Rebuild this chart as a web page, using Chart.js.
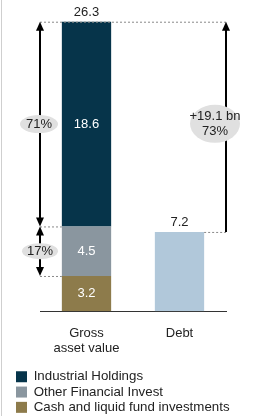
<!DOCTYPE html>
<html>
<head>
<meta charset="utf-8">
<script src="https://cdn.jsdelivr.net/npm/chart.js@4"></script>
<style>
  html, body { margin: 0; padding: 0; background: #fff; overflow: hidden; }
  #wrap { position: absolute; left: 0; top: 0; width: 259px; height: 424px; }
  #edge { position: absolute; left: 1px; top: 0; width: 1px; height: 416px; background: #cfcfcf; }
</style>
</head>
<body>
<div id="wrap"><canvas id="gavChart"></canvas></div>
<div id="edge"></div>
<script>
const categories = [["Gross", "asset value"], "Debt"];
const industrial = [18.6, null];
const otherFinancial = [4.5, null];
const cashFunds = [3.2, null];
const debt = [null, 7.2];
const seriesNames = ["Industrial Holdings", "Other Financial Invest", "Cash and liquid fund investments", "Debt"];
const totalLabel = "26.3";
const shareLabels = ["71%", "17%"];
const gapLabel = ["+19.1 bn", "73%"];

const FONT = "Liberation Sans, Arial, sans-serif";

function arrowHead(ctx, x, y, dir) {
  // dir -1 = pointing up, 1 = pointing down
  ctx.beginPath();
  ctx.moveTo(x, y);
  ctx.lineTo(x - 4, y - dir * 9);
  ctx.lineTo(x + 4, y - dir * 9);
  ctx.closePath();
  ctx.fill();
}

function vArrow(ctx, x, yTop, yBot, both) {
  ctx.beginPath();
  ctx.moveTo(x, yTop + 6);
  ctx.lineTo(x, both ? yBot - 6 : yBot);
  ctx.stroke();
  arrowHead(ctx, x, yTop, -1);
  if (both) arrowHead(ctx, x, yBot, 1);
}

function dashed(ctx, x1, x2, y) {
  ctx.save();
  ctx.setLineDash([2, 2]);
  ctx.strokeStyle = "#888";
  ctx.lineWidth = 1;
  ctx.beginPath();
  ctx.moveTo(x1, y + 0.5);
  ctx.lineTo(x2, y + 0.5);
  ctx.stroke();
  ctx.restore();
}

function bubble(ctx, cx, cy, rx, ry, lines) {
  ctx.fillStyle = "#e0e0e0";
  ctx.beginPath();
  ctx.ellipse(cx, cy, rx, ry, 0, 0, Math.PI * 2);
  ctx.fill();
  ctx.fillStyle = "#222";
  const lh = 15;
  lines.forEach((t, i) => {
    ctx.fillText(t, cx, cy + (i - (lines.length - 1) / 2) * lh);
  });
}

const annotations = {
  id: "annotations",
  afterDatasetsDraw(chart) {
    const ctx = chart.ctx;
    const y = chart.scales.y;
    const area = chart.chartArea;
    const gross = chart.getDatasetMeta(0).data[0];
    const debtBar = chart.getDatasetMeta(3).data[1];
    const gLeft = gross.x - gross.width / 2;
    const dRight = debtBar.x + debtBar.width / 2;

    const total = industrial[0] + otherFinancial[0] + cashFunds[0];
    const yTotal = y.getPixelForValue(total);
    const yMid = y.getPixelForValue(cashFunds[0] + otherFinancial[0]);
    const yCash = y.getPixelForValue(cashFunds[0]);
    const yDebt = y.getPixelForValue(debt[1]);

    ctx.save();
    dashed(ctx, area.left, area.right, yTotal);
    dashed(ctx, area.left, gLeft, yMid);
    dashed(ctx, area.left, gLeft, yCash);
    dashed(ctx, dRight, area.right, yDebt);

    ctx.strokeStyle = "#000";
    ctx.fillStyle = "#000";
    ctx.lineWidth = 2;
    vArrow(ctx, area.left, yTotal, yMid, true);
    vArrow(ctx, area.left, yMid, yCash, true);
    vArrow(ctx, area.right, yTotal, yDebt, false);

    ctx.font = "13px " + FONT;
    ctx.textAlign = "center";
    ctx.textBaseline = "middle";
    bubble(ctx, area.left - 1, (yTotal + yMid) / 2, 19, 9, [shareLabels[0]]);
    bubble(ctx, area.left, (yMid + yCash) / 2, 18, 8, [shareLabels[1]]);
    bubble(ctx, area.right - 11, (yTotal + yDebt) / 2 - 3, 25, 19, gapLabel);

    // value labels inside the stack, bottom up
    ctx.fillStyle = "#fff";
    let base = 0;
    [cashFunds, otherFinancial, industrial].forEach(s => {
      const v = s[0];
      ctx.fillText(v.toFixed(1), gross.x, y.getPixelForValue(base + v / 2));
      base += v;
    });
    ctx.fillStyle = "#222";
    ctx.textBaseline = "bottom";
    ctx.fillText(totalLabel, gross.x, yTotal - 3);
    ctx.fillText(debt[1].toFixed(1), debtBar.x, yDebt - 3);
    ctx.restore();
  }
};

new Chart(document.getElementById("gavChart"), {
  type: "bar",
  data: {
    labels: categories,
    datasets: [
      { label: seriesNames[2], data: cashFunds, backgroundColor: "#8d7b4b" },
      { label: seriesNames[1], data: otherFinancial, backgroundColor: "#8a969f" },
      { label: seriesNames[0], data: industrial, backgroundColor: "#06344a" },
      { label: seriesNames[3], data: debt, backgroundColor: "#b1c8da" }
    ].map(d => Object.assign(d, { borderWidth: 0, categoryPercentage: 1, barPercentage: 0.53 }))
  },
  options: {
    responsive: true,
    maintainAspectRatio: false,
    animation: false,
    layout: { padding: { left: 14, right: 0, top: 3, bottom: 0 } },
    scales: {
      x: {
        stacked: true,
        grid: { display: false, drawTicks: false },
        border: { color: "#333", width: 1 },
        ticks: { color: "#222", font: { family: FONT, size: 13, lineHeight: 1.15 }, padding: 15 },
        afterFit: s => { s.height -= 3; }
      },
      y: {
        stacked: true,
        min: 0,
        max: 28,
        grid: { display: false },
        border: { display: false },
        ticks: { display: false },
        afterFit: s => { s.width = 26; }
      },
      right: {
        position: "right",
        grid: { display: false },
        border: { display: false },
        ticks: { display: false },
        afterFit: s => { s.width = 33; }
      }
    },
    plugins: {
      tooltip: { enabled: false },
      legend: {
        position: "bottom",
        align: "start",
        labels: {
          boxWidth: 11,
          boxHeight: 11,
          padding: 2,
          color: "#222",
          font: { family: FONT, size: 13.3 },
          filter: item => item.datasetIndex < 3,
          sort: (a, b) => b.datasetIndex - a.datasetIndex
        }
      }
    }
  },
  plugins: [annotations]
});
</script>
</body>
</html>
